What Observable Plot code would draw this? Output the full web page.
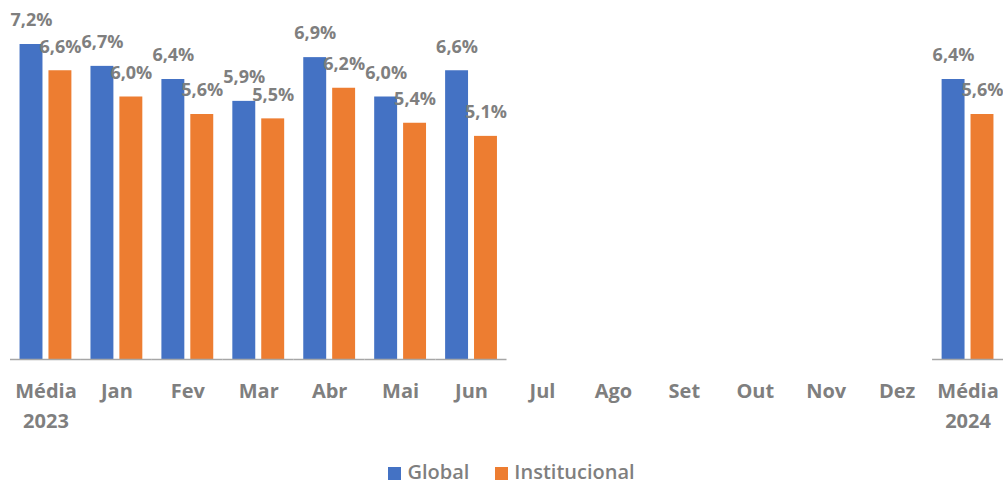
<!DOCTYPE html>
<html>
<head>
<meta charset="utf-8">
<script src="https://cdn.jsdelivr.net/npm/d3@7"></script>
<script src="https://cdn.jsdelivr.net/npm/@observablehq/plot@0.6"></script>
<style>
  body { margin: 0; background: #fff; font-family: "Open Sans", sans-serif; }
  #legend { display: flex; justify-content: center; gap: 26px; margin-top: 12px; padding-left: 20px;
    font-size: 20px; font-weight: 600; color: #7f7f7f; line-height: 24px; }
  #legend span.sw { display: inline-block; width: 13px; height: 13px; margin-right: 6px; vertical-align: -1px; }
</style>
</head>
<body>
<div id="chart"></div>
<div id="legend"></div>
<script>
const categories = ["Média\n2023", "Jan", "Fev", "Mar", "Abr", "Mai", "Jun", "Jul", "Ago", "Set", "Out", "Nov", "Dez", "Média\n2024"];
const series = ["Global", "Institucional"];
const globalValues = [7.2, 6.7, 6.4, 5.9, 6.9, 6.0, 6.6, null, null, null, null, null, null, 6.4];
const institucionalValues = [6.6, 6.0, 5.6, 5.5, 6.2, 5.4, 5.1, null, null, null, null, null, null, 5.6];
const colors = ["#4472C4", "#ED7D31"];

const data = [];
categories.forEach((c, i) => {
  if (globalValues[i] != null) data.push({cat: c, series: "Global", value: globalValues[i]});
  if (institucionalValues[i] != null) data.push({cat: c, series: "Institucional", value: institucionalValues[i]});
});
const fmt = v => v.toFixed(1).replace(".", ",") + "%";

const chart = Plot.plot({
  width: 1003,
  height: 448,
  marginTop: 9,
  marginBottom: 89,
  marginLeft: 10,
  marginRight: 0,
  style: {fontFamily: "'Open Sans', sans-serif", background: "#fff"},
  fx: {domain: categories, paddingInner: 0, paddingOuter: 0, round: false, axis: null},
  x: {domain: series, paddingInner: 0.207, paddingOuter: 0.33, round: false, axis: null},
  y: {domain: [0, 8], axis: null},
  color: {domain: series, range: colors},
  marks: [
    Plot.barY(data, {fx: "cat", x: "series", y: "value", fill: "series"}),
    Plot.ruleY([0], {stroke: "#a6a6a6", strokeWidth: 1.5}),
    Plot.text(data, {fx: "cat", x: "series", y: "value", text: d => fmt(d.value), dy: -24,
      fill: "#7f7f7f", fontSize: 18, fontWeight: "bold"}),
    Plot.axisFx({anchor: "bottom", tickSize: 0, tickPadding: 17, fontSize: 20, fontWeight: "bold",
      fill: "#7f7f7f", lineHeight: 1.5, label: null})
  ]
});
document.getElementById("chart").appendChild(chart);

const legend = document.getElementById("legend");
series.forEach((s, i) => {
  const item = document.createElement("div");
  item.innerHTML = `<span class="sw" style="background:${colors[i]}"></span>${s}`;
  legend.appendChild(item);
});
</script>
</body>
</html>
